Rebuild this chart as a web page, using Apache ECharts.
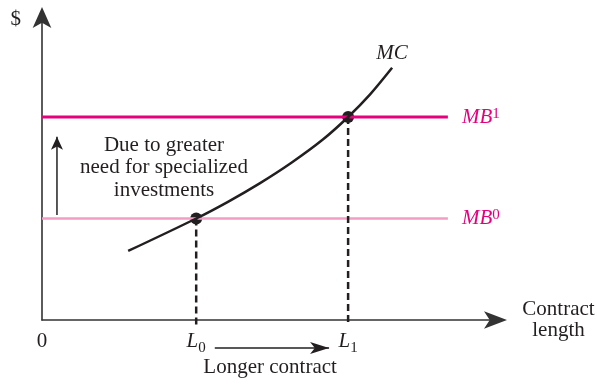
<!DOCTYPE html>
<html>
<head>
<meta charset="utf-8">
<script src="https://cdn.jsdelivr.net/npm/echarts@6/dist/echarts.min.js"></script>
<style>
  html, body { margin: 0; padding: 0; background: #ffffff; }
  #chart { width: 597px; height: 384px; }
</style>
</head>
<body>
<div id="chart"></div>
<script>
// Axis extents (contract length on x, dollars on y)
const X_MAX = 10;
const Y_MAX = 6;

// Marginal benefit levels: MB0 before, MB1 after the need for specialized investments grows
const mbNames = ['0', '1'];
const mbValues = [2, 4];
const mbEndX = 8.95;

// Optimal contract lengths where MC meets MB0 and MB1
const lengthNames = ['0', '1'];
const lengthValues = [3.4, 6.75];

// Marginal cost curve
const mcX = [1.9, 3.4, 4.1, 4.8, 5.5, 6.2, 6.75, 7.235, 7.72];
const mcY = [1.36, 2.0, 2.329, 2.693, 3.099, 3.561, 4.0, 4.446, 4.97];

// Labels along the horizontal axis
const tickValues = [0, lengthValues[0], lengthValues[1]];
const tickLabels = ['{t|0}', '{it|L}{sub|' + lengthNames[0] + '}', '{it|L}{sub|' + lengthNames[1] + '}'];

const INK = '#231f20';
const MAGENTA = '#e5007e';
const PINK = '#f39cc4';
const SERIF = "'Liberation Serif', 'Times New Roman', serif";

function makeRich(color) {
  return {
    t:   { fontFamily: SERIF, fontSize: 21, lineHeight: 21, verticalAlign: 'top', color: color },
    it:  { fontFamily: SERIF, fontSize: 21, lineHeight: 21, verticalAlign: 'top', fontStyle: 'italic', color: color },
    sub: { fontFamily: SERIF, fontSize: 15, lineHeight: 15, verticalAlign: 'top', padding: [10, 0, 0, 0], color: color },
    sup: { fontFamily: SERIF, fontSize: 15, lineHeight: 11, verticalAlign: 'top', color: color }
  };
}

function arrowLine(from, to, size, rotate) {
  return {
    type: 'line',
    silent: true,
    clip: false,
    showSymbol: true,
    showAllSymbol: true,
    lineStyle: { color: INK, width: 1.5 },
    itemStyle: { color: INK, opacity: 1 },
    emphasis: { disabled: true },
    data: [
      { value: from, symbol: 'none' },
      { value: to, symbol: 'arrow', symbolSize: size, symbolRotate: rotate }
    ]
  };
}

const mbSeries = mbValues.map(function (v, i) {
  return {
    type: 'line',
    name: 'MB' + mbNames[i],
    silent: true,
    symbol: 'none',
    lineStyle: { color: i === 1 ? MAGENTA : PINK, width: i === 1 ? 3 : 2.5 },
    emphasis: { disabled: true },
    data: [[0, v], [mbEndX, v]],
    endLabel: {
      show: true,
      distance: 14,
      formatter: '{it|MB}{sup|' + mbNames[i] + '}',
      fontFamily: SERIF,
      fontSize: 21,
      color: MAGENTA,
      rich: makeRich(MAGENTA)
    }
  };
});

const dashedSeries = lengthValues.map(function (x, i) {
  return {
    type: 'line',
    silent: true,
    clip: false,
    symbol: 'none',
    lineStyle: { color: INK, width: 2.5, type: [7, 4] },
    emphasis: { disabled: true },
    data: [[x, mbValues[i]], [x, -0.12]]
  };
});

const annotationData = tickValues.map(function (x, i) {
  return {
    value: [x, 0],
    label: { position: 'bottom', distance: 11, formatter: tickLabels[i] }
  };
}).concat([
  {
    value: [mcX[mcX.length - 1], mcY[mcY.length - 1]],
    label: { position: 'top', distance: 4, formatter: '{it|MC}' }
  },
  {
    value: [5.03, -0.55],
    label: { position: 'bottom', distance: 9, formatter: '{t|Longer contract}' }
  },
  {
    value: [2.69, 3.0],
    label: {
      position: 'inside',
      align: 'center',
      verticalAlign: 'middle',
      lineHeight: 22.7,
      formatter: 'Due to greater\nneed for specialized\ninvestments'
    }
  }
]);

const option = {
  animation: false,
  backgroundColor: '#ffffff',
  grid: { left: 42, right: 101.5, top: 15.5, bottom: 64, outerBoundsMode: 'none', containLabel: false },
  xAxis: {
    type: 'value',
    min: 0,
    max: X_MAX,
    splitLine: { show: false },
    axisTick: { show: false },
    axisLabel: { show: false },
    axisLine: {
      show: true,
      onZero: false,
      symbol: ['none', 'arrow'],
      symbolSize: [13, 23],
      symbolOffset: [0, 11.5],
      lineStyle: { color: '#333333', width: 1.6 }
    },
    name: 'Contract\nlength',
    nameLocation: 'end',
    nameGap: 63,
    nameTextStyle: {
      fontFamily: SERIF, fontSize: 21, color: INK, lineHeight: 21,
      align: 'center', verticalAlign: 'middle', padding: [4, 0, 0, 0]
    }
  },
  yAxis: {
    type: 'value',
    min: 0,
    max: Y_MAX,
    splitLine: { show: false },
    axisTick: { show: false },
    axisLabel: { show: false },
    axisLine: {
      show: true,
      onZero: false,
      symbol: ['none', 'arrow'],
      symbolSize: [14, 21],
      symbolOffset: [0, 8.5],
      lineStyle: { color: '#333333', width: 1.6 }
    },
    name: '$',
    nameLocation: 'end',
    nameGap: -4,
    nameTextStyle: {
      fontFamily: SERIF, fontSize: 21, color: INK,
      align: 'right', verticalAlign: 'middle', padding: [0, 21, 0, 0]
    }
  },
  series: mbSeries.concat(dashedSeries).concat([
    {
      type: 'line',
      name: 'MC',
      silent: true,
      symbol: 'none',
      smooth: 0.3,
      lineStyle: { color: INK, width: 2.5 },
      emphasis: { disabled: true },
      data: mcX.map(function (x, i) { return [x, mcY[i]]; })
    },
    {
      type: 'scatter',
      silent: true,
      symbolSize: 12,
      itemStyle: { color: INK, opacity: 1 },
      emphasis: { disabled: true },
      data: lengthValues.map(function (x, i) { return [x, mbValues[i]]; })
    },
    arrowLine([0.33, 2.07], [0.33, 3.61], [9, 13], 0),
    arrowLine([3.81, -0.55], [6.33, -0.55], [9, 19], -90),
    {
      type: 'scatter',
      silent: true,
      clip: false,
      symbolSize: 0,
      itemStyle: { color: INK, opacity: 1 },
      emphasis: { disabled: true },
      label: { show: true, fontFamily: SERIF, fontSize: 21, color: INK, opacity: 1, rich: makeRich(INK) },
      data: annotationData
    }
  ])
};

const chart = echarts.init(document.getElementById('chart'), null, { renderer: 'canvas' });
chart.setOption(option);
</script>
</body>
</html>
